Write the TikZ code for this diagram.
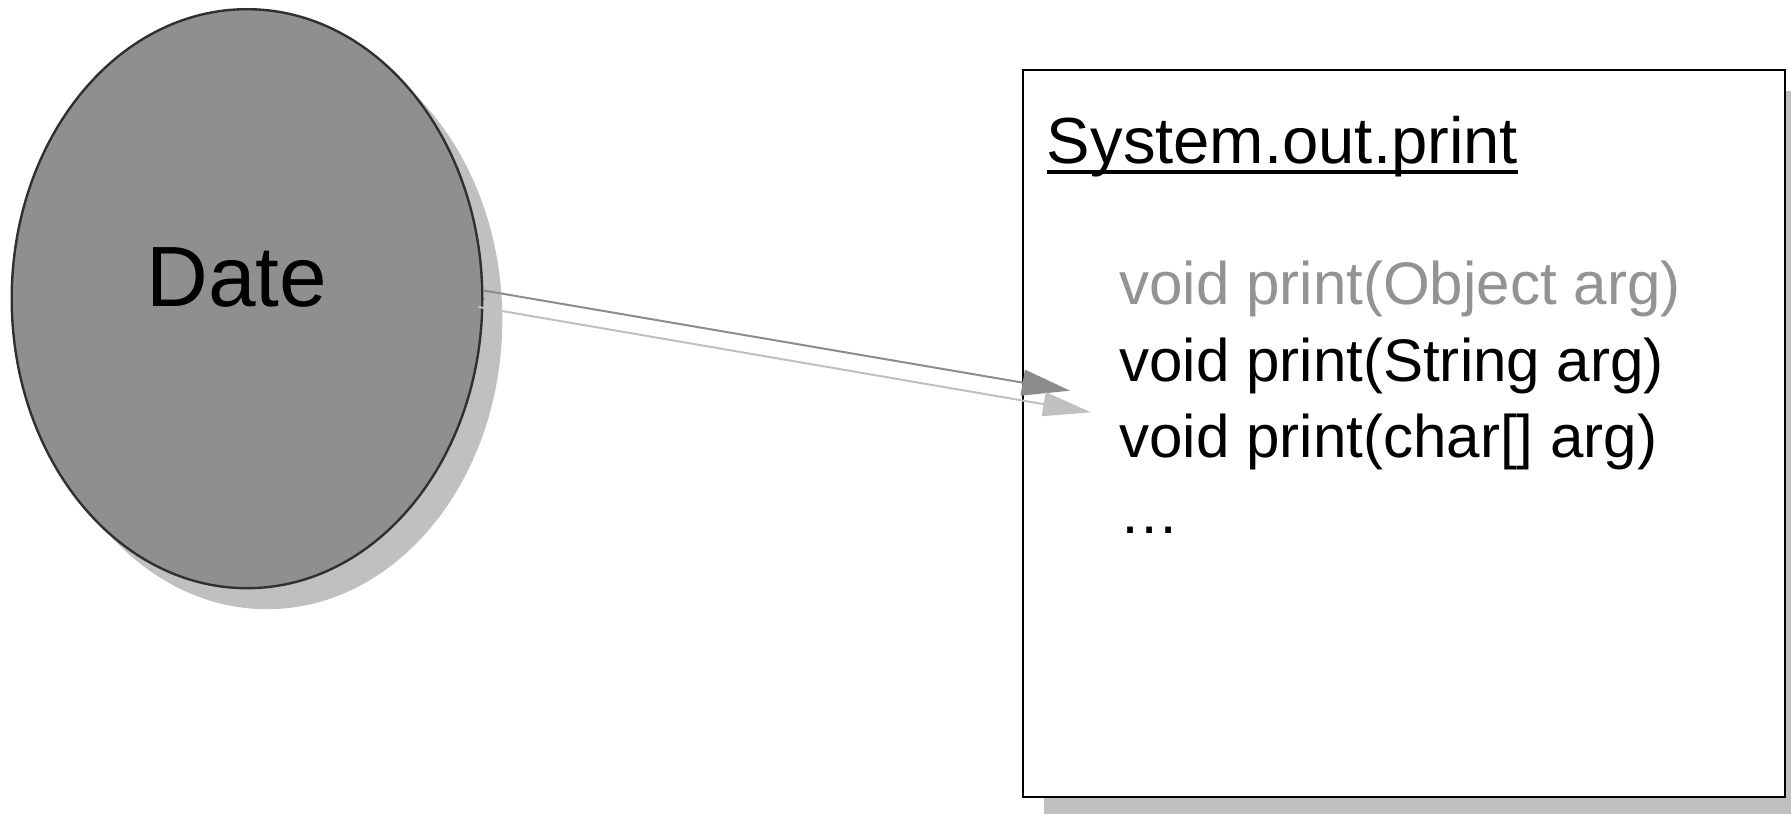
\documentclass[tikz,border=0pt]{standalone}
\usepackage{fontspec}
\setmainfont{Liberation Sans}
\usetikzlibrary{shapes.geometric,shadows,arrows.meta}
\definecolor{fillgray}{HTML}{8F8F8F}
\definecolor{shadowgray}{HTML}{C0C0C0}
\definecolor{edgegray}{HTML}{303030}
\definecolor{arrowdark}{HTML}{8C8C8C}
\definecolor{textgray}{HTML}{939393}
\begin{document}
\begin{tikzpicture}[x=0.5pt,y=-0.5pt,
  dateell/.style={ellipse, draw=edgegray, line width=1.2pt, fill=fillgray,
    minimum width=235.3pt, minimum height=289.5pt, inner sep=0pt,
    drop shadow={shadow xshift=10pt, shadow yshift=-10.5pt, fill=shadowgray, opacity=1}},
  classbox/.style={rectangle, draw=black, line width=1pt, fill=white,
    minimum width=381pt, minimum height=363.5pt, inner sep=0pt,
    drop shadow={shadow xshift=10.5pt, shadow yshift=-10.5pt, fill=shadowgray, opacity=1}},
  arrdark/.style={draw=arrowdark, line width=1pt, -{Triangle[length=24pt,width=13pt]}},
  arrlight/.style={draw=shadowgray, line width=1pt, -{Triangle[length=24pt,width=12pt]}},
  methodtxt/.style={anchor=base west, inner sep=0pt, font=\fontsize{30.05}{36}\selectfont},
]
\useasboundingbox (0,0) rectangle (1791,813);
% ellipse
\node[dateell] (date) at (247,298.7) {};
\node[anchor=base west, inner sep=0pt, font=\fontsize{42.8}{51}\selectfont] (datelbl) at (146,306) {Date};
% box
\node[classbox] (box) at (1404,433.5) {};
\node[anchor=base west, inner sep=0pt, font=\fontsize{32.6}{39}\selectfont] (sys) at (1046.5,163) {System.out.print};
\draw[line width=1.6pt] ([yshift=-4.5pt]sys.base west) -- ([yshift=-4.5pt]sys.base east);
\node[methodtxt, text=textgray] (m1) at (1119,304) {void print(Object arg)};
\node[methodtxt] (m2) at (1119,381) {void print(String arg)};
\node[methodtxt] (m3) at (1119,457) {void print(char[] arg)};
\node[methodtxt] (m4) at (1119,533) {…};
% arrows
\coordinate (tip1) at (1070,390.7);
\coordinate (tip2) at (1091,412.3);
\draw[arrdark] (date.2) -- (tip1);
\draw[arrlight] ([xshift=-2.5pt]date.-2) -- (tip2);
\end{tikzpicture}
\end{document}
